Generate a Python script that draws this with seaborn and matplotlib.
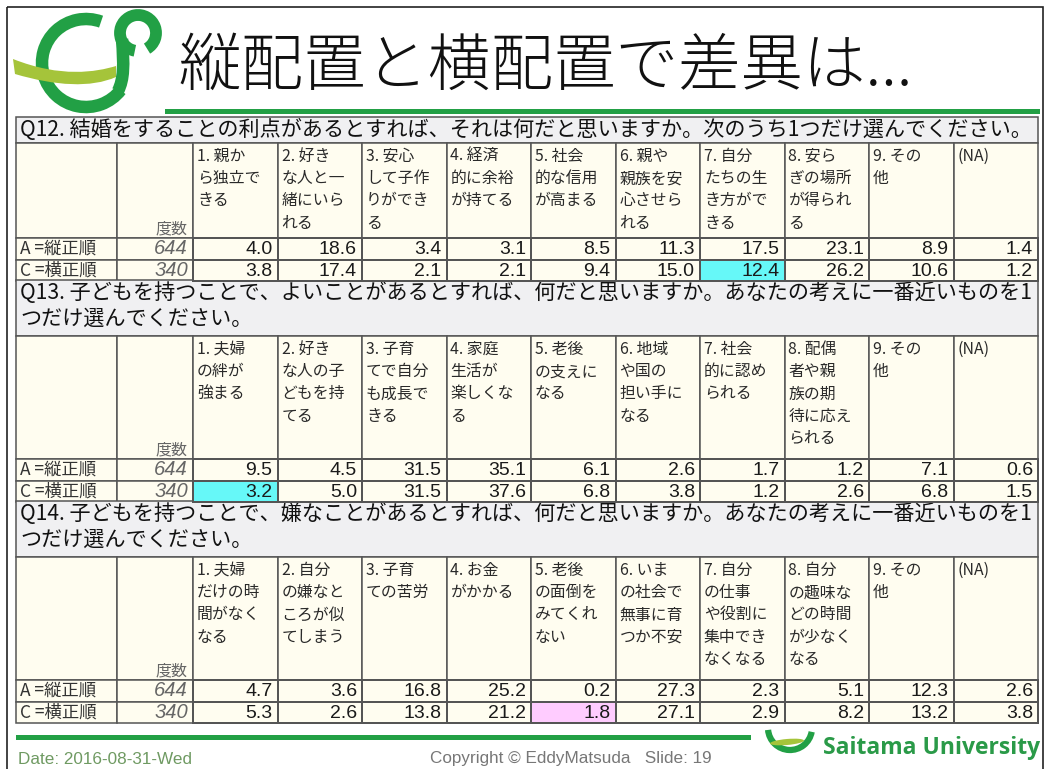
import numpy as np
import matplotlib
matplotlib.use("Agg")
import matplotlib.pyplot as plt
import matplotlib.patches as mpatches
from matplotlib.path import Path
from matplotlib.colors import ListedColormap
import seaborn as sns

# データ
slide_title = "縦配置と横配置で差異は..."
row_labels = ["A =縦正順", "C =横正順"]
counts = [644, 340]

q12_text = "Q12. 結婚をすることの利点があるとすれば、それは何だと思いますか。次のうち1つだけ選んでください。"
q12_heads = ["1. 親か\nら独立で\nきる", "2. 好き\nな人と一\n緒にいら\nれる", "3. 安心\nして子作\nりができ\nる",
             "4. 経済\n的に余裕\nが持てる", "5. 社会\n的な信用\nが高まる", "6. 親や\n親族を安\n心させら\nれる",
             "7. 自分\nたちの生\nき方がで\nきる", "8. 安ら\nぎの場所\nが得られ\nる", "9. その\n他", "(NA)"]
q12_a = [4.0, 18.6, 3.4, 3.1, 8.5, 11.3, 17.5, 23.1, 8.9, 1.4]
q12_c = [3.8, 17.4, 2.1, 2.1, 9.4, 15.0, 12.4, 26.2, 10.6, 1.2]

q13_text = "Q13. 子どもを持つことで、よいことがあるとすれば、何だと思いますか。あなたの考えに一番近いものを1\nつだけ選んでください。"
q13_heads = ["1. 夫婦\nの絆が\n強まる", "2. 好き\nな人の子\nどもを持\nてる", "3. 子育\nてで自分\nも成長で\nきる",
             "4. 家庭\n生活が\n楽しくな\nる", "5. 老後\nの支えに\nなる", "6. 地域\nや国の\n担い手に\nなる",
             "7. 社会\n的に認め\nられる", "8. 配偶\n者や親\n族の期\n待に応え\nられる", "9. その\n他", "(NA)"]
q13_a = [9.5, 4.5, 31.5, 35.1, 6.1, 2.6, 1.7, 1.2, 7.1, 0.6]
q13_c = [3.2, 5.0, 31.5, 37.6, 6.8, 3.8, 1.2, 2.6, 6.8, 1.5]

q14_text = "Q14. 子どもを持つことで、嫌なことがあるとすれば、何だと思いますか。あなたの考えに一番近いものを1\nつだけ選んでください。"
q14_heads = ["1. 夫婦\nだけの時\n間がなく\nなる", "2. 自分\nの嫌なと\nころが似\nてしまう", "3. 子育\nての苦労",
             "4. お金\nがかかる", "5. 老後\nの面倒を\nみてくれ\nない", "6. いま\nの社会で\n無事に育\nつか不安",
             "7. 自分\nの仕事\nや役割に\n集中でき\nなくなる", "8. 自分\nの趣味な\nどの時間\nが少なく\nなる", "9. その\n他", "(NA)"]
q14_a = [4.7, 3.6, 16.8, 25.2, 0.2, 27.3, 2.3, 5.1, 12.3, 2.6]
q14_c = [5.3, 2.6, 13.8, 21.2, 1.8, 27.1, 2.9, 8.2, 13.2, 3.8]

# 強調セル (C行の列番号, 色コード 1=水色 2=ピンク)
highlights = [(6, 1), (0, 1), (4, 2)]

footer_date = "Date: 2016-08-31-Wed"
footer_copy = "Copyright © EddyMatsuda   Slide: 19"
footer_univ = "Saitama University"

sns.set_theme(style="white")
JP = ["Noto Sans CJK JP", "DejaVu Sans"]
plt.rcParams["font.family"] = JP

W, H = 1049, 769
fig = plt.figure(figsize=(W / 100, H / 100), dpi=100)
fig.patch.set_facecolor("white")
ax = fig.add_axes([0, 0, 1, 1])
ax.set_xlim(0, W)
ax.set_ylim(H, 0)
ax.axis("off")

GREEN = "#22a045"
LIME = "#a5c43a"
EDGE = "#555555"
IVORY = "#fffdf0"
GRAY = "#f0f0f2"

# 枠
ax.add_patch(mpatches.Rectangle((7, 7), 1036, 780, fill=False, ec="#222222", lw=1.2))

# ロゴ
def logo(cx, cy, s):
    ax.add_patch(mpatches.Arc((cx, cy), 88 * s, 88 * s, theta1=38, theta2=290, color=GREEN, lw=9 * s))
    ax.add_patch(mpatches.Arc((cx + 52 * s, cy - 30 * s), 36 * s, 36 * s, theta1=100, theta2=420,
                              color=GREEN, lw=8.5 * s))
    verts = [(cx + 36 * s, cy - 24 * s), (cx + 38 * s, cy + 2 * s), (cx + 38 * s, cy + 16 * s),
             (cx + 32 * s, cy + 28 * s)]
    ax.add_patch(mpatches.PathPatch(Path(verts, [Path.MOVETO, Path.CURVE4, Path.CURVE4, Path.CURVE4]),
                                    fill=False, ec=GREEN, lw=9 * s, capstyle="butt"))
    top = [(cx - 73 * s, cy - 4 * s), (cx - 25 * s, cy + 15 * s), (cx + 10 * s, cy + 9 * s), (cx + 30 * s, cy + 3 * s)]
    bot = [(cx + 30 * s, cy + 14 * s), (cx + 5 * s, cy + 25 * s), (cx - 30 * s, cy + 23 * s), (cx - 71 * s, cy + 11 * s)]
    codes = [Path.MOVETO, Path.CURVE4, Path.CURVE4, Path.CURVE4,
             Path.LINETO, Path.CURVE4, Path.CURVE4, Path.CURVE4, Path.CLOSEPOLY]
    ax.add_patch(mpatches.PathPatch(Path(top + bot + [top[0]], codes), fc=LIME, ec="none"))

logo(86, 63, 1.0)

ax.text(178, 68, slide_title, fontsize=45, va="center", ha="left", color="#111111", weight="light")
ax.add_patch(mpatches.Rectangle((165, 109), 875, 5, fc=GREEN, ec="none"))

# 表
X0, X1 = 16, 1038
data_x0 = 193
cw = (X1 - data_x0) / 10
blocks = [
    (q12_text, q12_heads, q12_a, q12_c, 117, 26, 95),
    (q13_text, q13_heads, q13_a, q13_c, 280, 56, 123),
    (q14_text, q14_heads, q14_a, q14_c, 501, 56, 123),
]
ROW_H = 21.5
cmap = ListedColormap([IVORY, "#66f8f8", "#ffccff"])

for b, (qt, heads, a_vals, c_vals, top, qh, hh) in enumerate(blocks):
    ax.add_patch(mpatches.Rectangle((X0, top), X1 - X0, qh, fc=GRAY, ec=EDGE, lw=1.1))
    ax.text(X0 + 4, top + 2, qt, fontsize=15.2, va="top", ha="left", color="#111111", linespacing=1.2)
    htop = top + qh
    # 見出し行
    edges = [X0, 117, 193] + [data_x0 + cw * (i + 1) for i in range(10)]
    for i in range(len(edges) - 1):
        ax.add_patch(mpatches.Rectangle((edges[i], htop), edges[i + 1] - edges[i], hh,
                                        fc=IVORY, ec=EDGE, lw=1.1))
    for i, h in enumerate(heads):
        ax.text(edges[i + 2] + 4, htop + 5, h, fontsize=11.4, va="top", ha="left",
                color="#2a2a2a", linespacing=1.4)
    ax.text(188, htop + hh - 9, "度数", fontsize=11.5, va="center", ha="right",
            color="#666666", style="italic")
    # データ行のラベル
    dtop = htop + hh
    for r in range(2):
        y = dtop + r * ROW_H
        ax.add_patch(mpatches.Rectangle((X0, y), 117 - X0, ROW_H, fc=IVORY, ec=EDGE, lw=1.1))
        ax.add_patch(mpatches.Rectangle((117, y), 193 - 117, ROW_H, fc=IVORY, ec=EDGE, lw=1.1))
        ax.text(20, y + ROW_H / 2, row_labels[r], fontsize=12.5, va="center", ha="left", color="#333333")
        ax.text(188, y + ROW_H / 2, str(counts[r]), fontsize=14.5, va="center", ha="right",
                color="#666666", style="italic", family="Liberation Sans")
    # 数値(ヒートマップ)
    codes_arr = np.zeros((2, 10))
    hc, hv = highlights[b]
    codes_arr[1, hc] = hv
    hax = fig.add_axes([data_x0 / W, 1 - (dtop + 2 * ROW_H) / H, (X1 - data_x0) / W, 2 * ROW_H / H])
    sns.heatmap(codes_arr, ax=hax, cmap=cmap, vmin=-0.5, vmax=2.5, cbar=False,
                linewidths=1.1, linecolor=EDGE, xticklabels=False, yticklabels=False)
    hax.collections[0].set_clip_on(False)
    for r, vals in enumerate([a_vals, c_vals]):
        for j, v in enumerate(vals):
            hax.text(j + 0.94, r + 0.55, f"{v:.1f}", fontsize=14, ha="right", va="center",
                     color="#1a1a1a", family="Liberation Sans")

# フッター
ax.add_patch(mpatches.Rectangle((16, 735), 735, 5, fc=GREEN, ec="none"))
ax.add_patch(mpatches.Arc((790, 728), 44, 44, theta1=10, theta2=175, color=GREEN, lw=4.5))
ax.add_patch(mpatches.Ellipse((787, 742), 34, 6, angle=-5, fc=LIME, ec="none"))
ax.text(18, 759, footer_date, fontsize=12.3, color="#6f9a62", va="center", ha="left", family="Liberation Sans")
ax.text(430, 759, footer_copy, fontsize=12.3, color="#777777", va="center", ha="left", family="Liberation Sans")
ax.text(1040, 748, footer_univ, fontsize=16.5, color="#2a9a48", va="center", ha="right",
        family="Open Sans", weight="bold")

fig.savefig("out.png", dpi=100)
